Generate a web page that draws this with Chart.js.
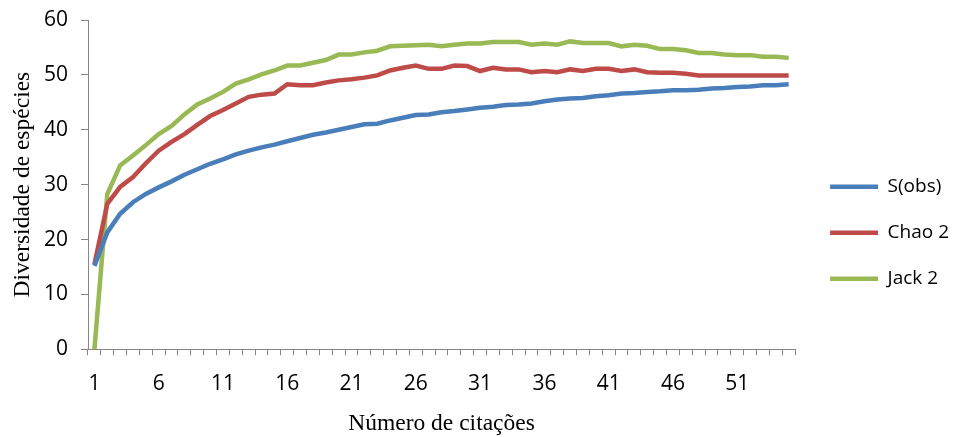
<!DOCTYPE html>
<html>
<head>
<meta charset="utf-8">
<script src="https://cdn.jsdelivr.net/npm/chart.js@4.4.0/dist/chart.umd.min.js"></script>
<style>
  html, body { margin: 0; padding: 0; background: #fff; }
  #wrap { width: 959px; height: 437px; }
</style>
</head>
<body>
<div id="wrap"><canvas id="chart" width="959" height="437"></canvas></div>
<script>
// número de citações 1..55
const labels = [];
for (let i = 1; i <= 55; i++) labels.push(String(i));

const sObs = [
  15.2, 21.3, 24.7, 26.8, 28.3, 29.5, 30.6, 31.8, 32.8, 33.8,
  34.6, 35.5, 36.2, 36.8, 37.3, 37.9, 38.5, 39.1, 39.5, 40.0,
  40.5, 41.0, 41.1, 41.7, 42.2, 42.7, 42.8, 43.2, 43.4, 43.7,
  44.0, 44.2, 44.5, 44.6, 44.8, 45.2, 45.5, 45.7, 45.8, 46.1,
  46.3, 46.6, 46.7, 46.9, 47.0, 47.2, 47.2, 47.3, 47.5, 47.6,
  47.8, 47.9, 48.1, 48.1, 48.3
];
const chao2 = [
  15.5, 26.5, 29.6, 31.4, 33.9, 36.2, 37.8, 39.2, 40.9, 42.5,
  43.6, 44.8, 46.0, 46.4, 46.6, 48.3, 48.1, 48.1, 48.6, 49.0,
  49.2, 49.5, 49.9, 50.8, 51.3, 51.7, 51.1, 51.1, 51.7, 51.6,
  50.7, 51.3, 51.0, 51.0, 50.5, 50.7, 50.5, 51.0, 50.7, 51.1,
  51.1, 50.7, 51.0, 50.5, 50.4, 50.4, 50.2, 49.9, 49.9, 49.9,
  49.9, 49.9, 49.9, 49.9, 49.9
];
const jack2 = [
  0, 28.3, 33.5, 35.3, 37.2, 39.2, 40.7, 42.8, 44.6, 45.7,
  46.9, 48.4, 49.2, 50.1, 50.8, 51.7, 51.7, 52.2, 52.7, 53.7,
  53.7, 54.1, 54.4, 55.2, 55.3, 55.4, 55.5, 55.2, 55.5, 55.7,
  55.7, 56.0, 56.0, 56.0, 55.5, 55.7, 55.5, 56.1, 55.8, 55.8,
  55.8, 55.2, 55.5, 55.3, 54.7, 54.7, 54.5, 54.0, 54.0, 53.7,
  53.6, 53.6, 53.3, 53.3, 53.1
];
const seriesNames = ['S(obs)', 'Chao 2', 'Jack 2'];
const seriesColors = ['#4a7ebb', '#be4b48', '#98b954'];
const yTicks = [0, 10, 20, 30, 40, 50, 60];

const axisColor = '#868686';
const tickFont = { family: 'Open Sans', size: 21 };
const titleFont = { family: 'Liberation Serif', size: 23.5, lineHeight: 1 };

function line(name, data, color) {
  return {
    label: name,
    data: data,
    borderColor: color,
    backgroundColor: color,
    borderWidth: 4.5,
    pointRadius: 0,
    tension: 0,
    fill: false
  };
}

new Chart(document.getElementById('chart'), {
  type: 'line',
  data: {
    labels: labels,
    datasets: [
      line(seriesNames[0], sObs, seriesColors[0]),
      line(seriesNames[1], chao2, seriesColors[1]),
      line(seriesNames[2], jack2, seriesColors[2])
    ]
  },
  options: {
    responsive: false,
    animation: false,
    devicePixelRatio: 1,
    layout: { padding: { left: 5, top: 20, right: 0, bottom: 0 } },
    plugins: {
      tooltip: { enabled: false },
      legend: {
        position: 'right',
        // invisible title, only there to nudge the items down a little
        title: { display: true, text: ' ', font: { size: 7 }, padding: 0 },
        labels: {
          usePointStyle: true,
          pointStyle: 'line',
          pointStyleWidth: 48,
          padding: 27,
          color: '#000',
          font: { family: 'Open Sans', size: 19 }
        }
      }
    },
    scales: {
      x: {
        type: 'category',
        offset: true,
        grid: { offset: true, drawOnChartArea: false, tickLength: 6, color: axisColor },
        border: { color: axisColor },
        ticks: {
          autoSkip: false,
          maxRotation: 0,
          padding: 16,
          color: '#000',
          font: tickFont,
          callback: (v, i) => (i % 5 === 0 ? labels[i] : '')
        },
        title: {
          display: true,
          text: 'Número de citações',
          color: '#000',
          font: titleFont,
          padding: { top: 0, bottom: 1 }
        }
      },
      y: {
        min: 0,
        max: 60,
        afterBuildTicks: (s) => { s.ticks = yTicks.map(v => ({ value: v })); },
        afterFit: (s) => {
          s.width = 83;
          s.paddingTop = 8;
          s.paddingBottom = 8;
        },
        grid: { drawOnChartArea: false, tickLength: 7, color: axisColor },
        border: { color: axisColor },
        ticks: { padding: 13, color: '#000', font: tickFont },
        title: {
          display: true,
          text: 'Diversidade de espécies',
          color: '#000',
          font: titleFont,
          padding: { top: 6, bottom: 4 }
        }
      },
      gap: {
        type: 'linear',
        position: 'right',
        display: true,
        grid: { display: false },
        border: { display: false },
        ticks: { display: false },
        afterFit: (s) => { s.width = 8; }
      }
    }
  }
});
</script>
</body>
</html>
